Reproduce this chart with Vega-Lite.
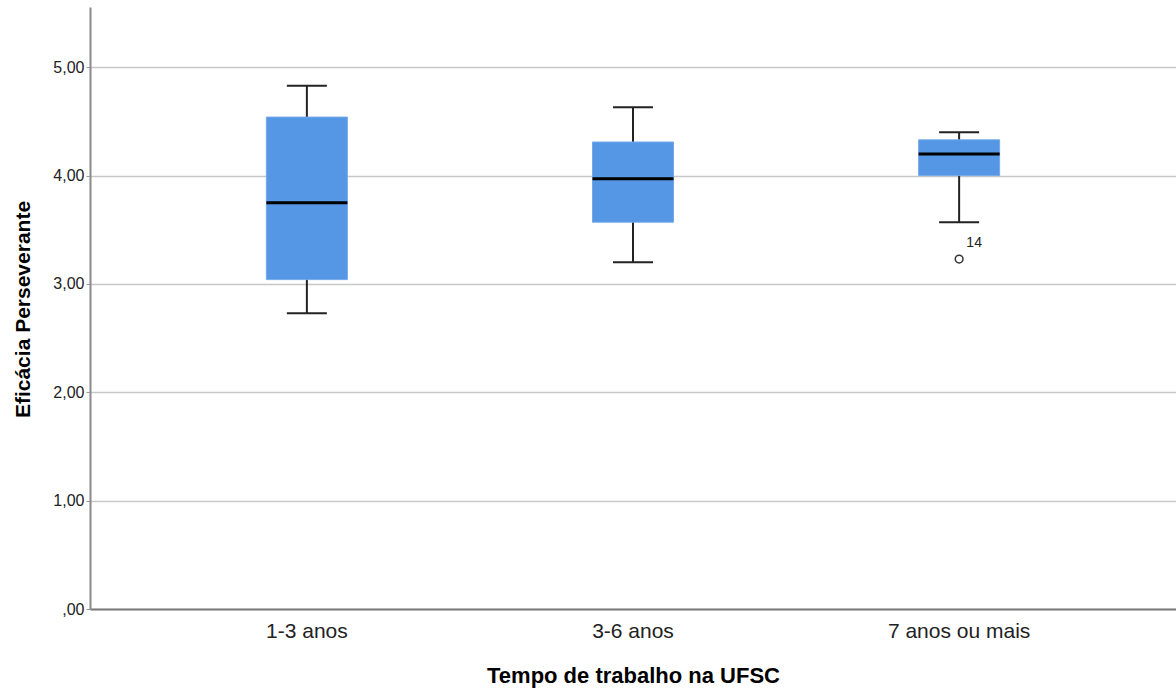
{
  "$schema": "https://vega.github.io/schema/vega-lite/v6.json",
  "width": 1086,
  "height": 602,
  "autosize": "none",
  "padding": {"left": 90, "top": 7, "right": 0, "bottom": 82},
  "background": "white",
  "config": {
    "font": "Liberation Sans",
    "view": {"stroke": null}
  },
  "datasets": {
    "boxes": [
      {"grupo": "1-3 anos", "minimo": 2.73, "q1": 3.04, "mediana": 3.75, "q3": 4.54, "maximo": 4.83},
      {"grupo": "3-6 anos", "minimo": 3.20, "q1": 3.57, "mediana": 3.97, "q3": 4.31, "maximo": 4.63},
      {"grupo": "7 anos ou mais", "minimo": 3.57, "q1": 4.00, "mediana": 4.20, "q3": 4.33, "maximo": 4.40}
    ],
    "outliers": [
      {"grupo": "7 anos ou mais", "valor": 3.23, "caso": "14"}
    ]
  },
  "encoding": {
    "x": {
      "field": "grupo",
      "type": "nominal",
      "sort": ["1-3 anos", "3-6 anos", "7 anos ou mais"],
      "scale": {"type": "band", "paddingInner": 0, "paddingOuter": 0.165},
      "axis": {
        "title": "Tempo de trabalho na UFSC",
        "titleFont": "Liberation Sans",
        "titleFontSize": 22,
        "titleFontWeight": "bold",
        "titleColor": "#000000",
        "titleY": 73,
        "titleBaseline": "alphabetic",
        "labelAngle": 0,
        "labelFontSize": 21,
        "labelColor": "#222222",
        "labelPadding": 11,
        "ticks": false,
        "domainColor": "#7a7a7a",
        "domainWidth": 2,
        "grid": false
      }
    }
  },
  "layer": [
    {
      "data": {"name": "boxes"},
      "mark": {"type": "rule", "color": "#222222", "strokeWidth": 2},
      "encoding": {
        "y": {
          "field": "minimo",
          "type": "quantitative",
          "scale": {"domain": [0, 5.556], "nice": false, "zero": true},
          "axis": {
            "title": "Eficácia Perseverante",
            "titleFont": "Liberation Sans",
            "titleFontSize": 21,
            "titleFontWeight": "bold",
            "titleColor": "#000000",
            "titleX": -61,
            "titleY": 302,
            "titleAngle": -90,
            "titleAlign": "center",
            "titleBaseline": "alphabetic",
            "values": [0, 1, 2, 3, 4, 5],
            "labelExpr": "datum.value == 0 ? ',00' : replace(format(datum.value, '.2f'), '.', ',')",
            "labelFontSize": 16,
            "labelColor": "#222222",
            "labelPadding": 2,
            "tickSize": 4,
            "tickColor": "#9a9a9a",
            "domainColor": "#8a8a8a",
            "domainWidth": 2,
            "grid": true,
            "gridColor": "#c8c8c8",
            "gridWidth": 1.5
          }
        },
        "y2": {"field": "maximo"}
      }
    },
    {
      "data": {"name": "boxes"},
      "mark": {"type": "bar", "size": 81, "fill": "#5596e5", "stroke": "#74a8ea", "strokeWidth": 1},
      "encoding": {
        "y": {"field": "q1", "type": "quantitative"},
        "y2": {"field": "q3"}
      }
    },
    {
      "data": {"name": "boxes"},
      "mark": {"type": "tick", "size": 81, "thickness": 3, "color": "#000000", "opacity": 1},
      "encoding": {
        "y": {"field": "mediana", "type": "quantitative"}
      }
    },
    {
      "data": {"name": "boxes"},
      "mark": {"type": "tick", "size": 40, "thickness": 2, "color": "#222222", "opacity": 1},
      "encoding": {
        "y": {"field": "maximo", "type": "quantitative"}
      }
    },
    {
      "data": {"name": "boxes"},
      "mark": {"type": "tick", "size": 40, "thickness": 2, "color": "#222222", "opacity": 1},
      "encoding": {
        "y": {"field": "minimo", "type": "quantitative"}
      }
    },
    {
      "data": {"name": "outliers"},
      "mark": {"type": "point", "shape": "circle", "size": 60, "filled": false, "stroke": "#333333", "strokeWidth": 1.5, "opacity": 1},
      "encoding": {
        "y": {"field": "valor", "type": "quantitative"}
      }
    },
    {
      "data": {"name": "outliers"},
      "mark": {"type": "text", "dx": 15, "dy": -16, "fontSize": 14, "color": "#222222", "font": "Liberation Sans"},
      "encoding": {
        "y": {"field": "valor", "type": "quantitative"},
        "text": {"field": "caso", "type": "nominal"}
      }
    }
  ]
}
